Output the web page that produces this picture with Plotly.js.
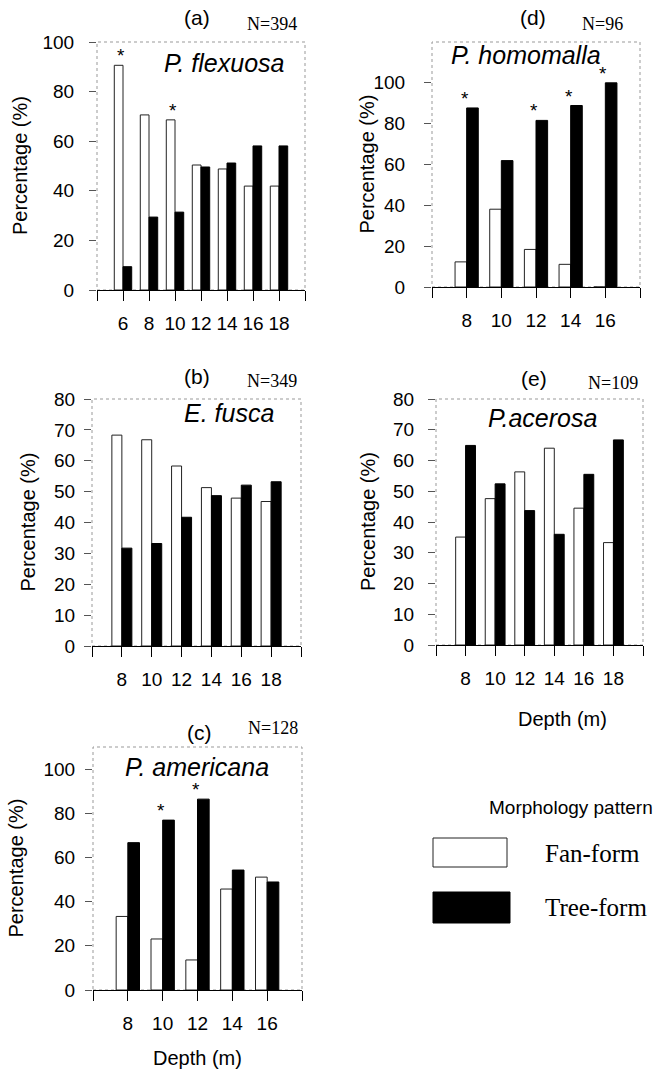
<!DOCTYPE html>
<html>
<head>
<meta charset="utf-8">
<script src="https://cdn.plot.ly/plotly-3.0.1.min.js"></script>
<style>html,body{margin:0;padding:0;background:#fff;}#chart{width:661px;height:1070px;}</style>
</head>
<body>
<div id="chart"></div>
<script>
// ---- data ----
const depthA = [6, 8, 10, 12, 14, 16, 18];
const fanA   = [90.6, 70.6, 68.6, 50.4, 48.8, 41.9, 41.9];
const treeA  = [9.4, 29.4, 31.4, 49.6, 51.2, 58.1, 58.1];
const starsA = [6, 10];

const depthD = [8, 10, 12, 14, 16];
const fanD   = [12.3, 38.1, 18.4, 11.1, 0];
const treeD  = [87.7, 61.9, 81.6, 88.9, 100];
const starsD = [8, 12, 14, 16];

const depthB = [8, 10, 12, 14, 16, 18];
const fanB   = [68.3, 66.8, 58.3, 51.3, 47.9, 46.8];
const treeB  = [31.7, 33.2, 41.7, 48.7, 52.1, 53.2];
const starsB = [];

const depthE = [8, 10, 12, 14, 16, 18];
const fanE   = [35.1, 47.6, 56.3, 64.0, 44.5, 33.3];
const treeE  = [64.9, 52.4, 43.7, 36.0, 55.5, 66.7];
const starsE = [];

const depthC = [8, 10, 12, 14, 16];
const fanC   = [33.3, 23.1, 13.6, 45.7, 51.1];
const treeC  = [66.7, 76.9, 86.4, 54.3, 48.9];
const starsC = [10, 12];

const panelLetters = ['(a)', '(d)', '(b)', '(e)', '(c)'];
const panelN       = ['N=394', 'N=96', 'N=349', 'N=109', 'N=128'];
const species      = ['P. flexuosa', 'P. homomalla', 'E. fusca', 'P.acerosa', 'P. americana'];
const seriesNames  = ['Fan-form', 'Tree-form'];

// ---- layout helpers ----
const W = 661, H = 1070;
const px = v => v / W;
const py = v => 1 - v / H;
const ARIAL = 'Liberation Sans, Arial, sans-serif';
const TIMES = 'Liberation Serif, Times New Roman, serif';

const panels = [
  {depth: depthA, fan: fanA, tree: treeA, stars: starsA, x: [97, 305], y: [42, 290], xr: [4, 20], yr: [0, 100], yt: [0,20,40,60,80,100],
   letter: [197, 18], n: [272, 24], sp: [224, 63], yl: 20, ystand: 11, xlab: false},
  {depth: depthD, fan: fanD, tree: treeD, stars: starsD, x: [432, 640], y: [42, 287], xr: [6, 18], yr: [0, 120], yt: [0,20,40,60,80,100],
   letter: [533, 18], n: [602, 24], sp: [526, 55], yl: 367, ystand: 15, xlab: false},
  {depth: depthB, fan: fanB, tree: treeB, stars: starsB, x: [92, 301], y: [399, 646], xr: [6, 20], yr: [0, 80], yt: [0,10,20,30,40,50,60,70,80],
   letter: [197, 376], n: [272, 381], sp: [229, 413], yl: 27, ystand: 5, xlab: false},
  {depth: depthE, fan: fanE, tree: treeE, stars: starsE, x: [436, 643], y: [399, 645], xr: [6, 20], yr: [0, 80], yt: [0,10,20,30,40,50,60,70,80],
   letter: [534, 378], n: [613, 383], sp: [542, 418], yl: 368, ystand: 10, xlab: [562, 719]},
  {depth: depthC, fan: fanC, tree: treeC, stars: starsC, x: [93, 302], y: [747, 990], xr: [6, 18], yr: [0, 110], yt: [0,20,40,60,80,100],
   letter: [199, 732], n: [273, 728], sp: [197, 767], yl: 15, ystand: 6, xlab: [197, 1058]}
];

const data = [];
const layout = {
  width: W, height: H,
  margin: {l: 0, r: 0, t: 0, b: 0},
  paper_bgcolor: '#fff', plot_bgcolor: '#fff',
  showlegend: false,
  barmode: 'group',
  bargap: 0.33,
  font: {family: ARIAL, color: '#000'},
  annotations: [], shapes: []
};

panels.forEach((p, i) => {
  const k = i === 0 ? '' : String(i + 1);
  const xa = 'x' + k, ya = 'y' + k;
  data.push({type: 'bar', name: seriesNames[0], x: p.depth, y: p.fan, xaxis: xa, yaxis: ya,
             marker: {color: '#fff', line: {color: '#222', width: 1}}, hoverinfo: 'x+y'});
  data.push({type: 'bar', name: seriesNames[1], x: p.depth, y: p.tree, xaxis: xa, yaxis: ya,
             marker: {color: '#000', line: {color: '#000', width: 1}}, hoverinfo: 'x+y'});

  const tv = [], tt = [];
  for (let d = p.xr[0]; d <= p.xr[1]; d += 2) {
    tv.push(d);
    tt.push(p.depth.indexOf(d) >= 0 ? String(d) : '');
  }
  layout['xaxis' + k] = {
    domain: [px(p.x[0]), px(p.x[1])], anchor: ya, range: p.xr,
    tickmode: 'array', tickvals: tv, ticktext: tt,
    ticks: 'outside', ticklen: 10, tickwidth: 1, tickcolor: '#000',
    showline: true, linecolor: '#000', linewidth: 1,
    showgrid: false, zeroline: false, fixedrange: true,
    tickfont: {family: ARIAL, size: 19, color: '#000'}, ticklabelstandoff: 6
  };
  layout['yaxis' + k] = {
    domain: [py(p.y[1]), py(p.y[0])], anchor: xa, range: p.yr,
    tickmode: 'array', tickvals: p.yt,
    ticks: 'outside', ticklen: 7, tickwidth: 1, tickcolor: '#555',
    showline: false, showgrid: false, zeroline: false, fixedrange: true,
    tickfont: {family: ARIAL, size: 19, color: '#000'}, ticklabelstandoff: p.ystand
  };
  // frame
  layout.shapes.push({type: 'rect', xref: xa + ' domain', yref: ya + ' domain', x0: 0, x1: 1, y0: 0, y1: 1,
                      line: {color: '#999', width: 1, dash: 'dot'}, layer: 'below'});
  // stars
  p.stars.forEach(d => {
    const j = p.depth.indexOf(d);
    layout.annotations.push({xref: xa, yref: ya, x: d, y: Math.max(p.fan[j], p.tree[j]),
      text: '*', showarrow: false, xanchor: 'center', yanchor: 'bottom', xshift: -2, yshift: -3,
      font: {family: ARIAL, size: 19, color: '#000'}});
  });
  // texts
  layout.annotations.push({xref: 'paper', yref: 'paper', x: px(p.letter[0]), y: py(p.letter[1]), text: panelLetters[i],
    showarrow: false, xanchor: 'center', yanchor: 'middle', font: {family: ARIAL, size: 21, color: '#000'}});
  layout.annotations.push({xref: 'paper', yref: 'paper', x: px(p.n[0]), y: py(p.n[1]), text: panelN[i],
    showarrow: false, xanchor: 'center', yanchor: 'middle', font: {family: TIMES, size: 18, color: '#000'}});
  layout.annotations.push({xref: 'paper', yref: 'paper', x: px(p.sp[0]), y: py(p.sp[1]), text: '<i>' + species[i] + '</i>',
    showarrow: false, xanchor: 'center', yanchor: 'middle', font: {family: ARIAL, size: 25, color: '#000'}});
  layout.annotations.push({xref: 'paper', yref: 'paper', x: px(p.yl), y: py((p.y[0] + p.y[1]) / 2), text: 'Percentage (%)',
    showarrow: false, textangle: -90, xanchor: 'center', yanchor: 'middle', font: {family: ARIAL, size: 20, color: '#000'}});
  if (p.xlab) {
    layout.annotations.push({xref: 'paper', yref: 'paper', x: px(p.xlab[0]), y: py(p.xlab[1]), text: 'Depth (m)',
      showarrow: false, xanchor: 'center', yanchor: 'middle', font: {family: ARIAL, size: 20, color: '#000'}});
  }
});

// ---- legend (drawn) ----
layout.annotations.push({xref: 'paper', yref: 'paper', x: px(571), y: py(807), text: 'Morphology pattern',
  showarrow: false, xanchor: 'center', yanchor: 'middle', font: {family: ARIAL, size: 19, color: '#000'}});
layout.shapes.push({type: 'rect', xref: 'paper', yref: 'paper', x0: px(433), x1: px(507), y0: py(867), y1: py(838),
  line: {color: '#222', width: 1}, fillcolor: '#fff'});
layout.shapes.push({type: 'rect', xref: 'paper', yref: 'paper', x0: px(433), x1: px(510), y0: py(923), y1: py(892),
  line: {color: '#000', width: 1}, fillcolor: '#000'});
layout.annotations.push({xref: 'paper', yref: 'paper', x: px(543), y: py(853), text: seriesNames[0],
  showarrow: false, xanchor: 'left', yanchor: 'middle', font: {family: TIMES, size: 25, color: '#000'}});
layout.annotations.push({xref: 'paper', yref: 'paper', x: px(543), y: py(907), text: seriesNames[1],
  showarrow: false, xanchor: 'left', yanchor: 'middle', font: {family: TIMES, size: 25, color: '#000'}});

Plotly.newPlot('chart', data, layout, {displayModeBar: false, staticPlot: true});
</script>
</body>
</html>
